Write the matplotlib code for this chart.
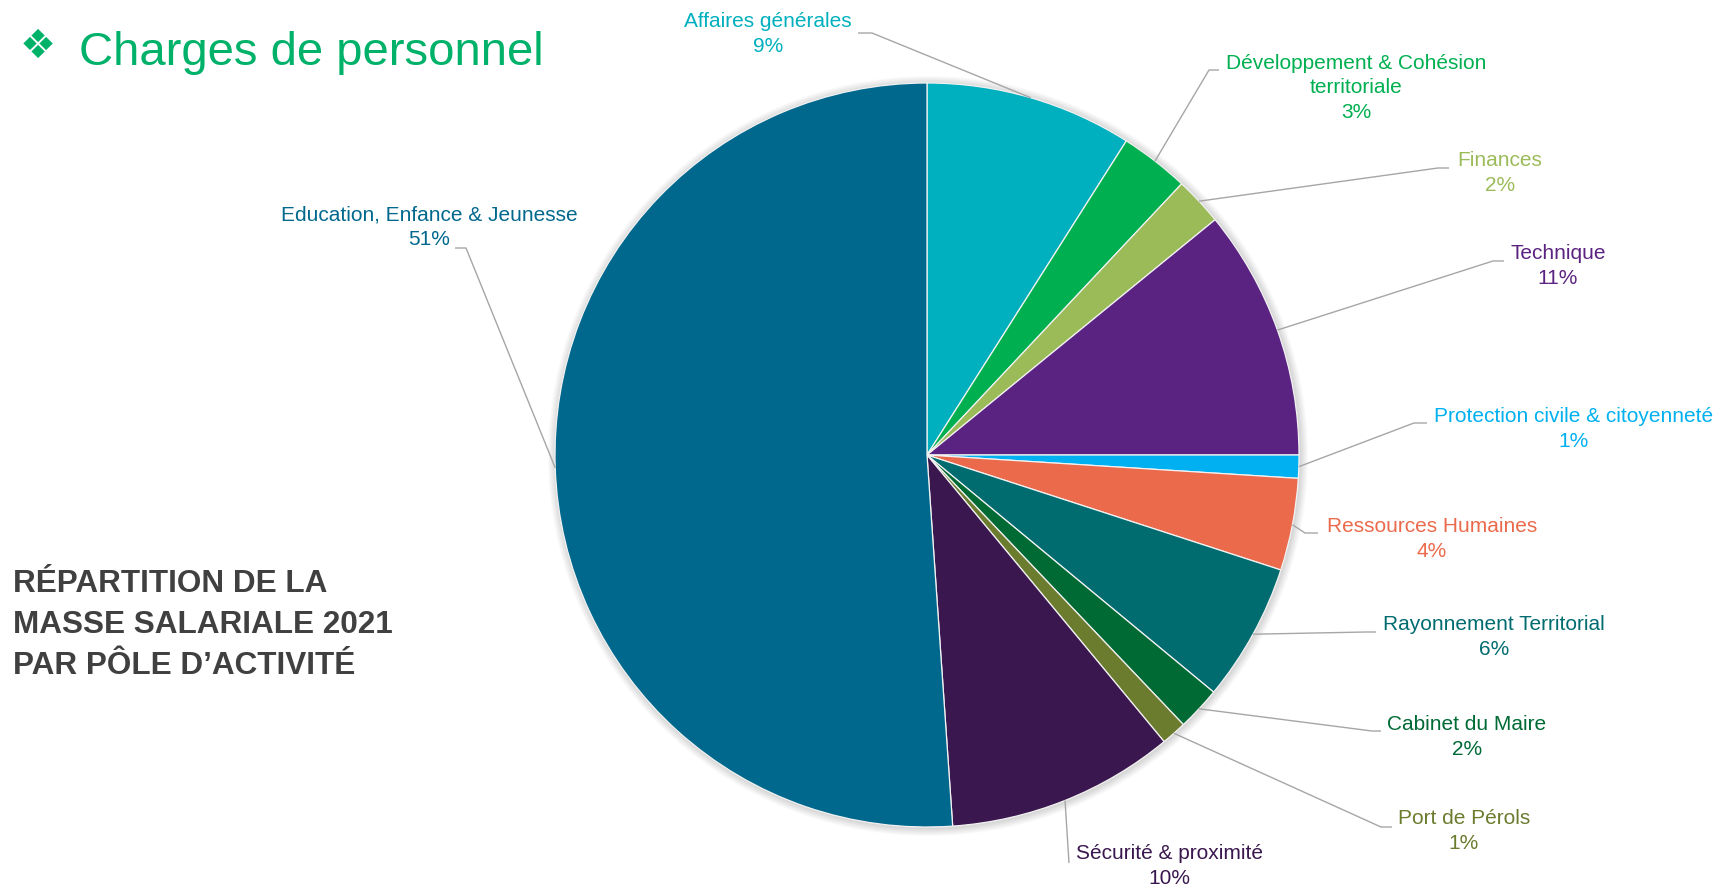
import matplotlib
matplotlib.use('Agg')
import matplotlib.pyplot as plt
from matplotlib.patches import Circle
import numpy as np

# ---- data: répartition de la masse salariale 2021 (%) ----
poles = ['Affaires générales', 'Développement & Cohésion\nterritoriale', 'Finances', 'Technique',
         'Protection civile & citoyenneté', 'Ressources Humaines', 'Rayonnement Territorial',
         'Cabinet du Maire', 'Port de Pérols', 'Sécurité & proximité', 'Education, Enfance & Jeunesse']
parts = [9.0, 3.0, 2.1, 10.9, 1.0, 4.0, 6.0, 1.9, 1.1, 9.9, 51.1]
colors = ['#00B0BE', '#00B050', '#9BBB59', '#5B2381', '#00B0F0', '#EC6A4C',
          '#006C70', '#006A35', '#6B7C2F', '#3A174E', '#00688D']
title = 'Charges de personnel'
subtitle = 'RÉPARTITION DE LA\nMASSE SALARIALE 2021\nPAR PÔLE D\u2019ACTIVITÉ'

# ---- layout (pixels, origin top-left) ----
W, H = 1719, 888
CX, CY, R = 927, 455, 372
# label centre, leader end near text, elbow
lab_xy = [(768, 34), (1356, 88), (1500, 173), (1558, 266), (1574, 429), (1432, 539),
          (1494, 637), (1467, 737), (1464, 831), (1169, 866), (429, 227)]
lead_end = [(858, 33), (1219, 70), (1449, 168), (1504, 261), (1427, 423), (1318, 533),
            (1376, 632), (1381, 731), (1392, 827), (1069, 863), (455, 248)]
lead_elb = [(872, 33), (1209, 70), (1438, 168), (1493, 261), (1414, 423), (1305, 533),
            (1366, 632), (1372, 731), (1381, 827), (1069, 863), (466, 248)]
explode = [0.013, 0, 0, 0, 0, 0, 0, 0, 0, 0, 0]

FONT = ['Liberation Sans', 'DejaVu Sans']
LEAD = '#A6A6A6'
GREEN = '#00B16A'

def Y(y):
    return H - y

fig = plt.figure(figsize=(W / 100, H / 100), dpi=100)
fig.patch.set_facecolor('white')
ax = fig.add_axes([0, 0, 1, 1])

# soft shadow behind the pie
for k in range(8):
    ax.add_patch(Circle((CX + 1, Y(CY) - 1), R + 1 + k, color='black', alpha=0.02, lw=0, zorder=0))

wedges, _ = ax.pie(parts, colors=colors, startangle=90, counterclock=False, center=(CX, Y(CY)),
                   radius=R, explode=explode,
                   wedgeprops=dict(edgecolor='#F2F2F2', linewidth=0.9, zorder=2))

for w, name, pct, c, (tx, ty), (ex, ey), (bx, by) in zip(wedges, poles, parts, colors,
                                                          lab_xy, lead_end, lead_elb):
    a = np.deg2rad((w.theta1 + w.theta2) / 2)
    rx, ry = CX + R * np.cos(a), Y(CY) + R * np.sin(a)
    ax.plot([rx, bx, ex], [ry, Y(by), Y(ey)], color=LEAD, lw=1.0, zorder=3, solid_capstyle='butt')
    ax.text(tx, Y(ty), '%s\n%d%%' % (name, round(pct)), ha='center', va='center', ma='center',
            linespacing=1.35, fontsize=15, color=c, family=FONT, zorder=4)

ax.text(38, Y(47), '\u2756', fontsize=29, color=GREEN, family=['DejaVu Sans'], va='center', ha='center')
ax.text(79, Y(65), title, fontsize=34, color=GREEN, family=FONT, va='baseline', ha='left')
ax.text(13, Y(625), subtitle, fontsize=22.7, fontweight='bold', color='#404040', family=FONT,
        va='center', ha='left', linespacing=1.48)

ax.set_xlim(0, W)
ax.set_ylim(0, H)
ax.set_aspect('equal')
ax.axis('off')
fig.savefig('out.png', dpi=100, facecolor='white')
